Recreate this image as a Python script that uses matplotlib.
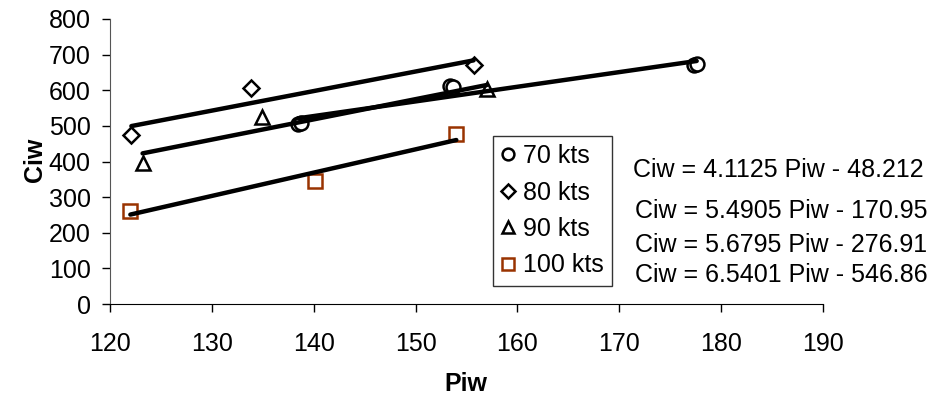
import numpy as np
import matplotlib.pyplot as plt

plt.rcParams['font.family'] = ['Liberation Sans', 'DejaVu Sans']

# ----------------------------------------------------------------------------
# Data
# ----------------------------------------------------------------------------
labels = ["70 kts", "80 kts", "90 kts", "100 kts"]

piw_70 = [138.5, 138.8, 153.4, 153.7, 177.3, 177.6]
ciw_70 = [505, 509, 612, 608, 672, 674]

piw_80 = [122.1, 133.8, 155.7]
ciw_80 = [474, 606, 671]

piw_90 = [123.2, 134.9, 157.0]
ciw_90 = [397, 526, 603]

piw_100 = [122.0, 140.1, 154.0]
ciw_100 = [262, 346, 476]

# trendline coefficients (Ciw = a * Piw + b), one per series
slopes = [4.1125, 5.4905, 5.6795, 6.5401]
intercepts = [-48.212, -170.95, -276.91, -546.86]
equations = ["Ciw = 4.1125 Piw - 48.212",
             "Ciw = 5.4905 Piw - 170.95",
             "Ciw = 5.6795 Piw - 276.91",
             "Ciw = 6.5401 Piw - 546.86"]

# ----------------------------------------------------------------------------
# Plot
# ----------------------------------------------------------------------------
W, H = 933, 397
fig = plt.figure(figsize=(W / 100, H / 100), dpi=100)
ax = fig.add_axes([110 / W, 1 - 304 / H, 713 / W, 285 / H])

xs = [piw_70, piw_80, piw_90, piw_100]
ys = [ciw_70, ciw_80, ciw_90, ciw_100]
markers = ['o', 'D', '^', 's']
sizes = [10, 7.8, 10.5, 9.5]
colors = ['black', 'black', 'black', '#993300']

for x, y, m, ms, c, lab in zip(xs, ys, markers, sizes, colors, labels):
    ax.plot(x, y, linestyle='none', marker=m, markersize=ms,
            markerfacecolor='white', markeredgecolor=c, markeredgewidth=1.8,
            label=lab, zorder=2)

for x, a, b in zip(xs, slopes, intercepts):
    xx = np.array([min(x), max(x)])
    ax.plot(xx, a * xx + b, color='black', linewidth=3.2,
            solid_capstyle='round', zorder=3)

ax.set_xlim(120, 190)
ax.set_ylim(0, 800)
ax.set_xticks(np.arange(120, 191, 10))
ax.set_yticks(np.arange(0, 801, 100))

ax.spines['top'].set_visible(False)
ax.spines['right'].set_visible(False)
ax.spines['left'].set_color('#555555')
ax.tick_params(axis='both', direction='out', length=6, width=1, labelsize=18)
ax.tick_params(axis='y', pad=8)
ax.tick_params(axis='x', pad=14)

ax.set_xlabel("Piw", fontsize=18, fontweight='bold')
ax.set_ylabel("Ciw", fontsize=18, fontweight='bold')
ax.xaxis.set_label_coords(0.499, -0.24)
ax.yaxis.set_label_coords(-0.088, 0.505)

leg = ax.legend(loc='upper left', bbox_to_anchor=((493 - 110) / 713, (304 - 136) / 285),
                borderaxespad=0, fontsize=18, frameon=True, fancybox=False,
                markerscale=0.85, handlelength=0.6, handletextpad=0.3,
                labelspacing=0.5, borderpad=0.32)
leg.get_frame().set_edgecolor('black')
leg.get_frame().set_linewidth(1)

# equation labels
eq_y = [170, 211, 245, 275]
eq_x = [633, 635, 635, 635]
for s, xp, yp in zip(equations, eq_x, eq_y):
    fig.text(xp / W, 1 - yp / H, s, fontsize=18, ha='left', va='center')

plt.savefig("out.png", dpi=100)
plt.close()
